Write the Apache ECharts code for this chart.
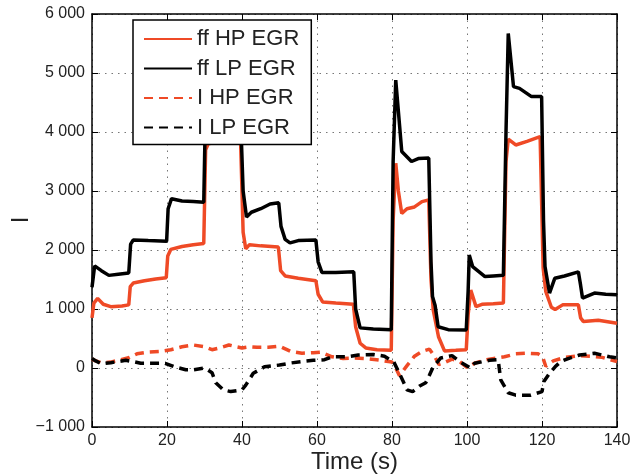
<!DOCTYPE html>
<html>
<head>
<meta charset="utf-8">
<script src="https://cdn.jsdelivr.net/npm/echarts@6/dist/echarts.min.js"></script>
<style>
  html, body { margin: 0; padding: 0; background: #fff; }
  #chart { width: 634px; height: 475px; }
</style>
</head>
<body>
<div id="chart"></div>
<script>
// x ticks and y ticks
const xTicks = [0, 20, 40, 60, 80, 100, 120, 140];
const yTicks = [-1000, 0, 1000, 2000, 3000, 4000, 5000, 6000];
const yTickLabels = ["\u22121 000", "0", "1 000", "2 000", "3 000", "4 000", "5 000", "6 000"];

const seriesNames = ["ff HP EGR", "ff LP EGR", "I HP EGR", "I LP EGR"];

// [time (s), value]
const ffHp = [
  [0, 850], [0.5, 1100], [1.5, 1180], [3, 1080], [5, 1040], [8, 1050], [9.8, 1070],
  [10.2, 1380], [11, 1440], [14, 1480], [17, 1510], [19.8, 1530],
  [20.2, 1900], [21, 2010], [24, 2060], [27, 2090], [29.8, 2110],
  [30.3, 3700], [31, 3800], [35, 3850], [39.6, 3900],
  [40.3, 2300], [41, 2020], [42, 2090], [45, 2070], [49.7, 2050],
  [50.3, 1650], [51.5, 1560], [55, 1520], [59.7, 1480],
  [60.3, 1250], [61.5, 1120], [65, 1100], [69.7, 1080],
  [70.3, 700], [71.5, 420], [73, 340], [76, 310], [79.8, 300],
  [80.3, 2500], [81, 3470], [81.7, 3000], [82.6, 2620], [84, 2700], [86, 2730], [88, 2820], [89.8, 2850],
  [90.4, 1500], [91, 980], [92.4, 530], [94, 290], [97, 300], [99.8, 310],
  [100.3, 900], [101, 1320], [102.4, 1040], [104, 1080], [107, 1090], [109.7, 1100],
  [110.4, 3500], [111, 3880], [113, 3780], [116, 3840], [119.5, 3920],
  [120.3, 1700], [121, 1300], [122.5, 1030], [123.5, 990], [125.5, 1070], [129.7, 1070],
  [130.3, 850], [131, 790], [135, 810], [140, 760]
];

const ffLp = [
  [0, 1370], [0.7, 1730], [2.5, 1650], [4.5, 1570], [7, 1590], [9.8, 1610],
  [10.3, 2100], [11, 2170], [15, 2160], [19.9, 2150],
  [20.3, 2700], [21.2, 2870], [24, 2830], [27, 2820], [29.8, 2810],
  [30.3, 4500], [31, 5000], [32, 4400], [35, 4300], [39.6, 4300],
  [40.3, 3000], [41.2, 2560], [42.5, 2640], [45, 2700], [47.5, 2780], [49.8, 2800],
  [50.4, 2400], [51.5, 2180], [52.8, 2120], [55, 2160], [59.7, 2170],
  [60.3, 1800], [61.3, 1620], [65, 1620], [69.8, 1630],
  [70.3, 1000], [71.5, 680], [75, 660], [79.8, 650],
  [80.3, 3500], [81, 4880], [82.6, 3670], [85.2, 3500], [87, 3550], [89.8, 3560],
  [90.4, 1800], [90.8, 1210], [91.5, 1060], [92.3, 700], [95, 650], [99.8, 645],
  [100.3, 1300], [100.6, 1915], [101.5, 1720], [104.8, 1550], [107, 1560], [109.7, 1570],
  [110.4, 4000], [111, 5670], [112.4, 4770], [114, 4740], [117.2, 4600], [119.9, 4600],
  [120.4, 2500], [120.8, 1720], [122, 1270], [123.4, 1520], [126, 1560], [129.7, 1630],
  [130.3, 1400], [130.8, 1185], [134, 1270], [137, 1250], [140, 1240]
];

const iHp = [
  [0, 150], [1, 120], [2.5, 90], [5, 100], [7, 130], [10, 180], [12, 240], [15, 270], [18, 280],
  [21, 310], [24, 360], [27, 390], [30, 360], [32, 310], [34, 340], [36.5, 390], [38.5, 360],
  [40, 340], [42, 360], [44, 350], [47, 350], [50, 370], [53, 280], [56, 250], [59, 260],
  [61, 270], [64, 190], [67, 160], [70, 170], [73, 160], [77, 130], [80, 100], [81, 0],
  [82, -130], [84, 40], [86, 200], [88, 280], [90, 320], [91.5, 180], [92.5, 60], [94, 90],
  [96, 150], [98, 110], [100, 10], [102, 80], [105, 140], [108, 170], [110, 190], [113, 240],
  [116, 250], [119, 240], [120.2, 180], [121, 30], [123, 120], [126, 180], [130, 210],
  [133, 200], [136, 180], [140, 110]
];

const iLp = [
  [0, 160], [1, 120], [2.5, 70], [5, 90], [7, 110], [9, 130], [10.8, 110], [13, 80], [16, 80],
  [19.5, 80], [22, 20], [25, -30], [27, -30], [30, 0], [32, -80], [33, -250], [35, -370],
  [37, -400], [40, -370], [41, -290], [43, -90], [46, 20], [50, 50], [53, 85], [56, 110],
  [59, 130], [62, 140], [64, 190], [68, 190], [71, 220], [75, 230], [78, 200], [80.5, 100],
  [81.5, -30], [83, -230], [84, -370], [85.5, -400], [87.5, -300], [89, -250], [90, -120],
  [91, 20], [93, 170], [96, 210], [98, 110], [101, 0], [102, 80], [106, 130], [108.3, 140],
  [109, -200], [111, -420], [113, -460], [117, -460], [120, -400], [120.5, -230], [122, -90],
  [123.5, 20], [125, 110], [127, 160], [130, 220], [134, 250], [138, 190], [140, 170]
];

const RED = "#ef4a26";
const FONT = "Liberation Sans, Arial, Helvetica, sans-serif";

const chart = echarts.init(document.getElementById("chart"), null, { renderer: "canvas" });

const dotted = { show: true, lineStyle: { color: "#777", width: 1, type: [1.5, 5] } };
const boxLine = { show: true, onZero: false, lineStyle: { color: "#000", width: 1.5 } };
const tickIn = { show: true, inside: true, length: 6, lineStyle: { color: "#000", width: 1 } };

function lineSeries(name, data, color, dashed) {
  return {
    name: name,
    type: "line",
    data: data,
    showSymbol: false,
    symbol: "none",
    animation: false,
    color: color,
    lineStyle: { color: color, width: 3.5, type: dashed ? [9, 6] : "solid" },
    xAxisIndex: 0,
    yAxisIndex: 0
  };
}

const option = {
  backgroundColor: "#fff",
  animation: false,
  textStyle: { fontFamily: FONT },
  grid: { left: 92, right: 17, top: 14, bottom: 48, containLabel: false, outerBoundsMode: "none" },
  legend: {
    data: seriesNames,
    orient: "vertical",
    left: 133,
    top: 20,
    z: 10,
    backgroundColor: "#fff",
    borderColor: "#000",
    borderWidth: 1.5,
    padding: [8, 12, 6, 10],
    itemWidth: 48,
    itemHeight: 22,
    itemGap: 7.5,
    // line series draw a circle in the legend icon; hide it, keep the line
    itemStyle: { opacity: 0 },
    textStyle: { fontFamily: FONT, fontSize: 22, color: "#222", padding: [0, 0, 0, 0] }
  },
  // y label "I", drawn turned a quarter like the original
  graphic: [
    {
      type: "text",
      x: 21,
      y: 220,
      rotation: Math.PI / 2,
      style: { text: "I", font: "24px " + FONT, fill: "#222", align: "center", verticalAlign: "middle" }
    }
  ],
  xAxis: [
    {
      type: "value",
      min: xTicks[0],
      max: xTicks[xTicks.length - 1],
      interval: 20,
      name: "Time (s)",
      nameLocation: "middle",
      nameGap: 23,
      nameMoveOverlap: false,
      nameTextStyle: { fontFamily: FONT, fontSize: 24, color: "#222" },
      axisLine: boxLine,
      axisTick: tickIn,
      axisLabel: { fontFamily: FONT, fontSize: 16, color: "#222", margin: 6 },
      splitLine: dotted
    },
    {
      type: "value",
      position: "top",
      min: xTicks[0],
      max: xTicks[xTicks.length - 1],
      interval: 20,
      axisLine: boxLine,
      axisTick: tickIn,
      axisLabel: { show: false },
      splitLine: { show: false }
    }
  ],
  yAxis: [
    {
      type: "value",
      min: yTicks[0],
      max: yTicks[yTicks.length - 1],
      interval: 1000,
      axisLine: boxLine,
      axisTick: tickIn,
      axisLabel: {
        fontFamily: FONT, fontSize: 16, color: "#222", margin: 7,
        formatter: (v) => yTickLabels[yTicks.indexOf(v)]
      },
      splitLine: dotted
    },
    {
      type: "value",
      position: "right",
      min: yTicks[0],
      max: yTicks[yTicks.length - 1],
      interval: 1000,
      axisLine: boxLine,
      axisTick: tickIn,
      axisLabel: { show: false },
      splitLine: { show: false }
    }
  ],
  series: [
    lineSeries(seriesNames[0], ffHp, RED, false),
    lineSeries(seriesNames[1], ffLp, "#000", false),
    lineSeries(seriesNames[2], iHp, RED, true),
    lineSeries(seriesNames[3], iLp, "#000", true)
  ]
};

chart.setOption(option);
</script>
</body>
</html>
